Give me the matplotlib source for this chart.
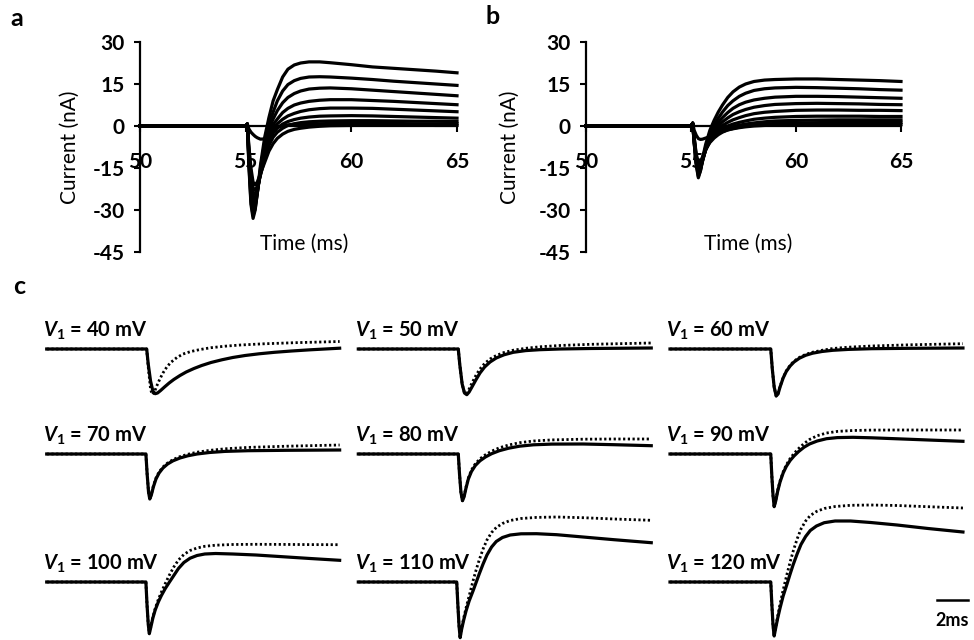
import numpy as np
import matplotlib.pyplot as plt

plt.rcParams['font.family'] = ['Lato', 'DejaVu Sans']
plt.rcParams['axes.unicode_minus'] = False
plt.rcParams['mathtext.fontset'] = 'custom'
plt.rcParams['mathtext.rm'] = 'Lato:bold'
plt.rcParams['mathtext.it'] = 'Lato:italic:bold'
plt.rcParams['mathtext.bf'] = 'Lato:bold'

# =========================================================
# DATOS PANEL a y b (corriente en nA frente a tiempo en ms)
# =========================================================
tiempo_ab = [50, 55.0, 55.08, 55.15, 55.25, 55.35, 55.45, 55.55, 55.7, 55.9, 56.1, 56.3, 56.5,
             56.75, 57.0, 57.3, 57.6, 58.0, 58.5, 59.0, 60.0, 61.0, 62.0, 63.0, 64.0, 65.0]

trazas_a = [
    [0, 0, 0.7, -14, -28, -33, -30, -24, -14, -4, 3, 9, 13, 17.5, 20.3, 21.8, 22.5, 22.9, 22.9, 22.6, 21.9, 21.1, 20.6, 20.1, 19.6, 19.0],
    [0, 0, 0.7, -13, -27, -32, -29.5, -24, -15, -6, 0.5, 5, 9, 12.5, 14.8, 16.2, 17.0, 17.5, 17.6, 17.5, 17.1, 16.6, 16.0, 15.5, 15.0, 14.5],
    [0, 0, 0.7, -12, -25, -30, -28.5, -24, -16, -7.5, -1, 2.5, 5.5, 8.3, 10.2, 11.6, 12.5, 13.2, 13.5, 13.6, 13.3, 12.8, 12.3, 11.8, 11.3, 10.8],
    [0, 0, 0.7, -11, -23, -28, -27.5, -23.5, -16.5, -8.5, -2.5, 0.5, 2.5, 4.8, 6.3, 7.5, 8.2, 8.8, 9.2, 9.4, 9.4, 9.1, 8.8, 8.4, 8.0, 7.6],
    [0, 0, 0.7, -10, -21, -26, -26, -23, -17, -9.5, -4, -1, 0.8, 2.4, 3.6, 4.5, 5.2, 5.8, 6.2, 6.4, 6.4, 6.3, 6.0, 5.7, 5.4, 5.1],
    [0, 0, 0.7, -9, -19, -24, -24.5, -22.5, -17.5, -10.5, -5.5, -2.5, -0.7, 0.7, 1.6, 2.3, 2.8, 3.2, 3.5, 3.6, 3.7, 3.6, 3.4, 3.2, 3.0, 2.8],
    [0, 0, 0.7, -8, -17, -22, -23, -21.5, -17.5, -12, -7, -4, -2.2, -0.8, 0.2, 0.8, 1.2, 1.5, 1.7, 1.8, 1.9, 1.9, 1.8, 1.7, 1.7, 1.6],
    [0, 0, 0.7, -1, -2.2, -3, -3.7, -4.2, -4.7, -4.6, -3.0, -1.5, -0.5, 0.1, 0.4, 0.6, 0.7, 0.8, 0.8, 0.9, 0.9, 0.9, 0.9, 0.8, 0.8, 0.8],
    [0, 0, 0.7, -7, -15, -20, -21, -20, -17, -13, -9, -6.3, -4.4, -2.9, -1.9, -1.2, -0.8, -0.4, -0.1, 0.1, 0.2, 0.3, 0.3, 0.3, 0.2, 0.2],
]

trazas_b = [
    [0, 0, 1.0, -6, -13, -17, -15, -11.5, -6.5, -1.5, 2, 5, 7.5, 10.2, 12.2, 13.9, 15.0, 15.9, 16.4, 16.6, 16.8, 16.8, 16.6, 16.4, 16.2, 15.9],
    [0, 0, 1.0, -6, -14, -18.5, -16, -12, -7.5, -3, 0.3, 2.8, 5, 7.3, 9.0, 10.6, 11.7, 12.7, 13.3, 13.6, 13.8, 13.7, 13.5, 13.3, 13.0, 12.8],
    [0, 0, 1.0, -5.5, -13.5, -18, -16, -12.5, -8, -4, -1, 1.3, 3.0, 4.8, 6.3, 7.6, 8.5, 9.3, 9.9, 10.3, 10.6, 10.6, 10.5, 10.3, 10.1, 9.9],
    [0, 0, 1.0, -5, -13, -17, -15.5, -12.5, -8.3, -4.5, -1.8, 0, 1.5, 2.9, 4.1, 5.1, 5.9, 6.7, 7.3, 7.7, 8.0, 8.1, 8.0, 7.9, 7.7, 7.6],
    [0, 0, 1.0, -5, -12, -16, -15, -12.3, -8.5, -5, -2.6, -1, 0.2, 1.3, 2.2, 3.0, 3.7, 4.4, 4.9, 5.2, 5.6, 5.7, 5.7, 5.6, 5.6, 5.5],
    [0, 0, 1.0, -4.5, -11.5, -15, -14.3, -12, -8.5, -5.3, -3.2, -1.8, -0.8, 0, 0.7, 1.3, 1.8, 2.4, 2.8, 3.1, 3.4, 3.5, 3.5, 3.5, 3.4, 3.4],
    [0, 0, 1.0, -4, -11, -14, -13.5, -11.5, -8.5, -5.6, -3.8, -2.5, -1.6, -0.8, -0.2, 0.3, 0.7, 1.1, 1.5, 1.8, 2.0, 2.1, 2.2, 2.2, 2.2, 2.2],
    [0, 0, 1.0, -4, -10, -13, -12.8, -11, -8.3, -5.9, -4.3, -3.1, -2.2, -1.4, -0.9, -0.4, 0, 0.4, 0.7, 0.9, 1.1, 1.2, 1.3, 1.3, 1.3, 1.3],
    [0, 0, 1.0, -1.5, -3.3, -4.5, -4.8, -4.7, -4.3, -3.8, -3.2, -2.6, -2.0, -1.4, -1.0, -0.6, -0.3, 0, 0.2, 0.3, 0.4, 0.5, 0.5, 0.5, 0.5, 0.5],
]

yticks_ab = [30, 15, 0, -15, -30, -45]
xticks_ab = [50, 55, 60, 65]

# =========================================================
# DATOS PANEL c (corriente normalizada, tiempo en ms)
# =========================================================
v1_mV = [40, 50, 60, 70, 80, 90, 100, 110, 120]

t_solida = [
    [0, 6.45, 6.55, 6.7, 6.85, 7.0, 7.15, 7.35, 7.6, 7.9, 8.2, 8.6, 9.0, 9.5, 10.0, 10.6, 11.3, 12.0, 12.8, 13.7, 14.7, 15.8, 17.0, 18.9],
    [0, 6.45, 6.55, 6.7, 6.85, 7.0, 7.15, 7.35, 7.6, 7.85, 8.15, 8.5, 8.9, 9.4, 10.0, 10.8, 11.7, 13, 15, 18.9],
    [0, 6.5, 6.6, 6.72, 6.85, 6.97, 7.1, 7.3, 7.5, 7.75, 8.0, 8.35, 8.75, 9.2, 9.8, 10.5, 11.5, 13, 15.5, 18.9],
    [0, 6.4, 6.48, 6.57, 6.65, 6.75, 6.88, 7.05, 7.25, 7.5, 7.8, 8.15, 8.6, 9.1, 9.7, 10.5, 11.5, 13, 15.5, 18.9],
    [0, 6.45, 6.53, 6.62, 6.72, 6.82, 6.95, 7.1, 7.3, 7.55, 7.85, 8.2, 8.6, 9.1, 9.7, 10.4, 11.3, 12.5, 14.5, 16.5, 18.9],
    [0, 6.5, 6.57, 6.65, 6.72, 6.82, 6.95, 7.1, 7.3, 7.5, 7.75, 8.0, 8.3, 8.65, 9.0, 9.5, 10.1, 10.8, 11.8, 13, 15, 17, 18.9],
    [0, 6.4, 6.47, 6.55, 6.62, 6.72, 6.85, 7.0, 7.2, 7.4, 7.65, 7.9, 8.2, 8.5, 8.85, 9.25, 9.7, 10.2, 10.9, 12, 13.5, 15, 17, 18.9],
    [0, 6.35, 6.42, 6.5, 6.57, 6.67, 6.8, 6.95, 7.15, 7.4, 7.6, 7.8, 8.05, 8.3, 8.6, 8.9, 9.3, 9.8, 10.5, 11.5, 12.8, 14.5, 16.5, 18.9],
    [0, 6.5, 6.57, 6.65, 6.72, 6.82, 6.95, 7.1, 7.3, 7.55, 7.75, 7.95, 8.2, 8.45, 8.75, 9.05, 9.45, 9.95, 10.65, 11.65, 12.95, 14.65, 16.65, 18.9],
]
i_solida = [
    [0, 0, -15, -32, -42, -44.7, -44, -41.5, -38, -34, -30.5, -26.5, -23, -19.5, -16.5, -13.5, -10.8, -8.5, -6.5, -4.8, -3.3, -2, -0.8, 0.8],
    [0, 0, -16, -35, -44, -45.7, -43, -37.5, -30.5, -24, -18, -13, -9, -5.8, -3.3, -1.6, -0.7, 0, 0.5, 1],
    [0, 0, -20, -38, -47, -45, -38, -29, -22.5, -17, -13, -9.2, -6.3, -4.2, -2.5, -1.3, -0.4, 0.3, 0.7, 1],
    [0, 0, -20, -38, -45, -41, -33, -25, -19, -14, -10, -6.8, -4, -1.8, 0, 1.5, 2.6, 3.3, 3.7, 4],
    [0, 0, -20, -38, -46.7, -43, -34, -25, -17.5, -11.5, -6.8, -3, 0.3, 3.3, 5.8, 7.8, 9.2, 9.9, 10, 9.3, 8.3],
    [0, 0, -22, -42, -52.7, -47, -37, -28, -19, -12.5, -6.5, -2, 2.5, 6.8, 10, 13, 15.3, 16.4, 16.7, 16.2, 15, 13.8, 12.7],
    [0, 0, -22, -42, -51.7, -45, -36, -28, -20, -13.5, -6.5, -0.5, 6.5, 13.5, 19.5, 23.8, 26.5, 28, 28.5, 28, 27, 25.5, 23.5, 21.7],
    [0, 0, -22, -44, -55.7, -47, -38, -29, -19, -9, -0.5, 8, 18, 27, 35, 40.5, 44.5, 47, 48.2, 48.3, 47.3, 45, 42.3, 39.3],
    [0, 0, -22, -44, -54, -46, -36, -26, -14, -2, 8, 17.5, 28, 37.5, 45.5, 51.5, 56, 59.3, 61, 61, 59.5, 57, 53.5, 50],
]

t_punteada = [
    [0, 6.45, 6.55, 6.7, 6.8, 6.95, 7.1, 7.3, 7.5, 7.75, 8.0, 8.4, 8.8, 9.3, 9.9, 10.6, 11.5, 12.5, 14, 16, 18.9],
    [0, 6.45, 6.55, 6.7, 6.85, 7.0, 7.15, 7.35, 7.6, 7.85, 8.15, 8.5, 8.9, 9.4, 10.0, 10.8, 11.7, 13, 15, 18.9],
    [0, 6.5, 6.6, 6.72, 6.85, 6.97, 7.1, 7.3, 7.5, 7.75, 8.0, 8.35, 8.75, 9.2, 9.8, 10.5, 11.5, 13, 15.5, 18.9],
    [0, 6.4, 6.48, 6.57, 6.65, 6.75, 6.88, 7.05, 7.25, 7.5, 7.8, 8.15, 8.6, 9.1, 9.7, 10.5, 11.5, 13, 15.5, 18.9],
    [0, 6.45, 6.53, 6.62, 6.72, 6.82, 6.95, 7.1, 7.3, 7.55, 7.85, 8.2, 8.6, 9.1, 9.7, 10.4, 11.3, 12.5, 14.5, 16.5, 18.9],
    [0, 6.5, 6.57, 6.65, 6.72, 6.82, 6.95, 7.1, 7.3, 7.5, 7.75, 8.0, 8.3, 8.65, 9.0, 9.5, 10.1, 10.8, 11.8, 13, 15, 17, 18.9],
    [0, 6.4, 6.47, 6.55, 6.62, 6.72, 6.85, 7.0, 7.2, 7.4, 7.65, 7.9, 8.2, 8.5, 8.85, 9.25, 9.7, 10.2, 10.9, 12, 13.5, 15, 17, 18.9],
    [0, 6.35, 6.42, 6.5, 6.57, 6.67, 6.8, 6.95, 7.15, 7.4, 7.6, 7.8, 8.05, 8.3, 8.6, 8.9, 9.3, 9.8, 10.5, 11.5, 12.8, 14.5, 16.5, 18.9],
    [0, 6.5, 6.57, 6.65, 6.72, 6.82, 6.95, 7.1, 7.3, 7.55, 7.75, 7.95, 8.2, 8.45, 8.75, 9.05, 9.45, 9.95, 10.65, 11.65, 12.95, 14.65, 16.65, 18.9],
]
i_punteada = [
    [0, 0, -18, -40, -45.5, -43, -37, -30, -24, -18, -13.5, -8.5, -5, -2.5, -0.5, 1.3, 2.8, 4, 5.2, 6.3, 7.5],
    [0, 0, -16, -35, -44, -44.5, -40, -33.5, -26, -20, -14.5, -10, -6.5, -3.5, -1.2, 0.7, 2.2, 3.5, 4.7, 6],
    [0, 0, -20, -38, -47, -44.5, -37.5, -28.5, -22, -16.3, -12.2, -8.4, -5.4, -3.2, -1.3, 0.5, 1.8, 3, 4.2, 5.3],
    [0, 0, -20, -38, -45, -40.5, -32, -24, -18, -13, -9, -5.6, -2.6, -0.3, 1.8, 3.6, 5.2, 6.6, 7.8, 9],
    [0, 0, -20, -38, -46.7, -42.5, -33, -24, -16, -9.8, -4.8, -0.8, 2.8, 6.2, 9.0, 11.3, 13.0, 14.1, 14.8, 15, 15],
    [0, 0, -22, -42, -52.7, -46.5, -36, -27, -18, -11, -4.5, 0.5, 5.5, 10.5, 14.5, 18.3, 21, 22.6, 23.5, 23.9, 24, 24, 24],
    [0, 0, -22, -42, -51.7, -44.5, -35, -26.5, -17.5, -10, -1.5, 6.5, 15, 22, 27.5, 31.5, 34, 35.7, 36.8, 37.5, 37.7, 37.6, 37.4, 37.3],
    [0, 0, -22, -44, -55.7, -46, -36, -26, -14, 1, 12, 22, 33, 42, 49.5, 54.5, 58.5, 61.5, 63.5, 64.6, 65, 64.3, 63, 61.7],
    [0, 0, -22, -44, -54, -45, -34, -22, -8, 8, 20, 31, 43, 53, 61, 66.5, 70.5, 73.5, 75.5, 76.7, 77, 76.5, 75.3, 74],
]

# =========================================================
# FIGURA
# =========================================================
W, H = 974, 640
fig = plt.figure(figsize=(W / 100, H / 100), dpi=100)


def caja(izq, arriba, ancho, alto):
    return [izq / W, 1 - (arriba + alto) / H, ancho / W, alto / H]


def panel_corriente(ax, trazas, xlab_x, ylab_x):
    for tr in trazas:
        ax.plot(tiempo_ab, tr, color='black', linewidth=2.3, solid_joinstyle='round', clip_on=False)
    ax.set_xlim(50, 65)
    ax.set_ylim(-45, 30)
    ax.spines['top'].set_visible(False)
    ax.spines['right'].set_visible(False)
    ax.spines['bottom'].set_position(('data', 0))
    ax.spines['left'].set_linewidth(1.6)
    ax.spines['bottom'].set_linewidth(1.6)
    ax.set_yticks(yticks_ab)
    ax.set_xticks(xticks_ab)
    ax.tick_params(axis='y', direction='out', length=4, width=1.5, pad=7, labelsize=15)
    ax.tick_params(axis='x', direction='out', length=4, width=1.5, pad=15, labelsize=15)
    for lab in ax.get_xticklabels() + ax.get_yticklabels():
        lab.set_fontweight('bold')
    ax.set_ylabel('Current (nA)', fontsize=15)
    ax.set_xlabel('Time (ms)', fontsize=15)
    ax.yaxis.set_label_coords(ylab_x, 0.5)
    ax.xaxis.set_label_coords(xlab_x, 0.085)
    ax.patch.set_alpha(0)


ax_a = fig.add_axes(caja(140, 42, 317, 210))
panel_corriente(ax_a, trazas_a, 0.517, -0.19)
ax_b = fig.add_axes(caja(586, 42, 315, 210))
panel_corriente(ax_b, trazas_b, 0.514, -0.21)

fig.text(17 / W, 1 - 19 / H, 'a', fontsize=18, fontweight='bold', ha='center', va='center')
fig.text(493 / W, 1 - 17 / H, 'b', fontsize=18, fontweight='bold', ha='center', va='center')
fig.text(19 / W, 1 - 286 / H, 'c', fontsize=18, fontweight='bold', ha='center', va='center')

# Panel c: rejilla 3x3 de trazas
col_x0 = [46.7, 358.3, 670]
fila_base = [349, 454, 582]
px_ms = 15.5
for k, v in enumerate(v1_mV):
    fila, col = k // 3, k % 3
    ax = fig.add_axes(caja(col_x0[col], fila_base[fila] - 70, 19 * px_ms, 130))
    ax.plot(t_punteada[k], i_punteada[k], color='black', linestyle=(0, (0.8, 0.9)), linewidth=2.0, clip_on=False)
    ax.plot(t_solida[k], i_solida[k], color='black', linewidth=2.3, solid_joinstyle='round', clip_on=False)
    ax.set_xlim(0, 19)
    ax.set_ylim(-60, 70)
    ax.axis('off')
    ax.text(-0.24, 18, r'$V_1$ = %d mV' % v, fontsize=14.5, fontweight='bold', ha='left', va='center')
    if k == len(v1_mV) - 1:
        ax.plot([17.2, 19.2], [-18, -18], color='black', linewidth=1.8, clip_on=False)
        ax.text(18.2, -39, '2ms', fontsize=13, fontweight='bold', ha='center', va='center')

fig.savefig('out.png', dpi=100)
